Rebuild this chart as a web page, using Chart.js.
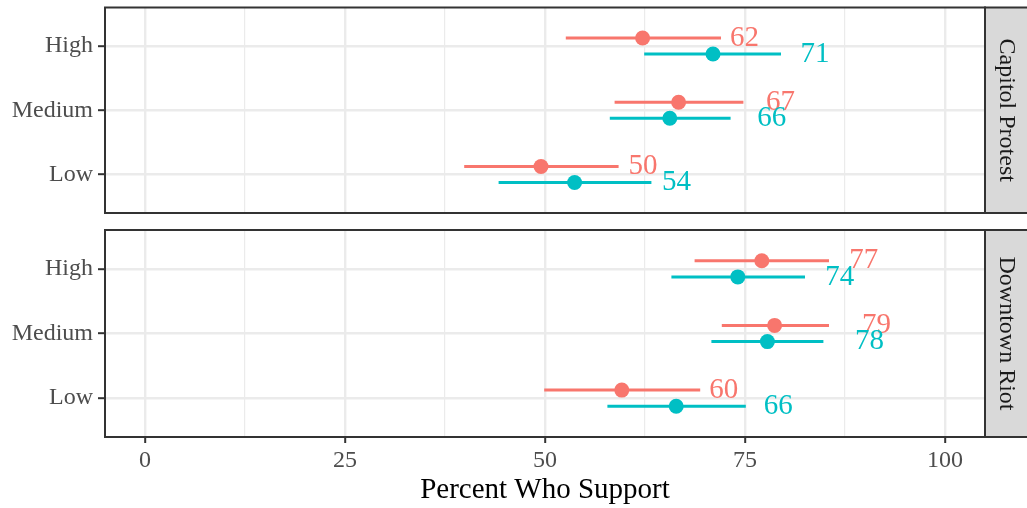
<!DOCTYPE html>
<html>
<head>
<meta charset="utf-8">
<script src="https://cdn.jsdelivr.net/npm/chart.js@4.4.1/dist/chart.umd.min.js"></script>
<style>
  body{margin:0;background:#fff}
  #wrap{position:relative;width:1027px;height:508px;overflow:hidden}
  canvas{position:absolute;left:0}
</style>
</head>
<body>
<div id="wrap">
  <canvas id="top" width="1027" height="222" style="top:0;width:1027px;height:222px"></canvas>
  <canvas id="bottom" width="1027" height="286" style="top:222px;width:1027px;height:286px"></canvas>
</div>
<script>
// y levels, bottom to top
const categories = ['Low', 'Medium', 'High'];
const panels = ['Capitol Protest', 'Downtown Riot'];
const xTicks = [0, 12.5, 25, 37.5, 50, 62.5, 75, 87.5, 100];
const xLabels = [0, 25, 50, 75, 100];

// Capitol Protest
const protestRed = [49.5, 66.7, 62.2];
const protestRedLo = [39.9, 58.7, 52.6];
const protestRedHi = [59.2, 74.8, 72.0];
const protestTeal = [53.7, 65.6, 71.0];
const protestTealLo = [44.2, 58.1, 62.4];
const protestTealHi = [63.3, 73.2, 79.5];

// Downtown Riot
const riotRed = [59.6, 78.7, 77.1];
const riotRedLo = [49.9, 72.1, 68.7];
const riotRedHi = [69.4, 85.5, 85.5];
const riotTeal = [66.4, 77.8, 74.1];
const riotTealLo = [57.8, 70.8, 65.8];
const riotTealHi = [75.1, 84.8, 82.5];

const RED = '#F8766D', TEAL = '#00BFC4';
const DODGE = 0.125, NUDGE = 12.75;
const FONT = "'Liberation Serif', 'Times New Roman', serif";

function seriesSets(est, lo, hi, color, off) {
  const sets = [];
  est.forEach((v, i) => {
    sets.push({
      type: 'line', showLine: true, order: 2,
      data: [{x: lo[i], y: i + 1 + off}, {x: hi[i], y: i + 1 + off}],
      borderColor: color, borderWidth: 3, pointRadius: 0, borderCapStyle: 'butt'
    });
  });
  sets.push({
    type: 'scatter', order: 1,
    data: est.map((v, i) => ({x: v, y: i + 1 + off})),
    backgroundColor: color, borderWidth: 0, pointRadius: 7.5
  });
  return sets;
}

const panelPlugin = {
  id: 'panel',
  afterDatasetsDraw(chart, args, opts) {
    const {ctx, scales: {x, y}} = chart;
    ctx.save();
    ctx.font = '29px ' + FONT;
    ctx.textAlign = 'center';
    ctx.textBaseline = 'middle';
    opts.series.forEach(s => {
      ctx.fillStyle = s.color;
      s.est.forEach((v, i) => {
        ctx.fillText(String(Math.round(v)), x.getPixelForValue(v + NUDGE), y.getPixelForValue(i + 1 + s.off));
      });
    });
    ctx.restore();
  },
  afterDraw(chart, args, opts) {
    const {ctx, chartArea: a} = chart;
    ctx.save();
    ctx.strokeStyle = '#333333';
    ctx.lineWidth = 2;
    ctx.strokeRect(a.left, a.top, a.right - a.left, a.bottom - a.top);
    ctx.fillStyle = '#D9D9D9';
    ctx.fillRect(a.right, a.top, 46, a.bottom - a.top);
    ctx.strokeRect(a.right, a.top, 46, a.bottom - a.top);
    ctx.translate(a.right + 21, (a.top + a.bottom) / 2);
    ctx.rotate(Math.PI / 2);
    ctx.fillStyle = '#1A1A1A';
    ctx.font = '24px ' + FONT;
    ctx.textAlign = 'center';
    ctx.textBaseline = 'middle';
    ctx.fillText(opts.strip, 0, 0);
    ctx.restore();
  }
};

function makeChart(id, strip, red, redLo, redHi, teal, tealLo, tealHi, showX, padTop, xHeight) {
  const datasets = [].concat(
    seriesSets(red, redLo, redHi, RED, DODGE),
    seriesSets(teal, tealLo, tealHi, TEAL, -DODGE)
  );
  return new Chart(document.getElementById(id), {
    type: 'scatter',
    data: {datasets: datasets},
    plugins: [panelPlugin],
    options: {
      responsive: false,
      animation: false,
      events: [],
      layout: {padding: {top: padTop, right: 42, left: 0, bottom: 0}},
      plugins: {
        legend: {display: false},
        tooltip: {enabled: false},
        panel: {
          strip: strip,
          series: [{est: red, color: RED, off: DODGE}, {est: teal, color: TEAL, off: -DODGE}]
        }
      },
      scales: {
        x: {
          type: 'linear', min: -5, max: 105,
          afterBuildTicks: s => { s.ticks = xTicks.map(v => ({value: v})); },
          afterFit: s => { s.height = xHeight; s.paddingLeft = 0; s.paddingRight = 0; },
          border: {display: false},
          grid: {
            color: '#EBEBEB',
            lineWidth: c => (c.tick && xLabels.includes(c.tick.value)) ? 2.4 : 1.2,
            drawTicks: showX,
            tickLength: 6,
            tickWidth: 2,
            tickColor: c => (c.tick && xLabels.includes(c.tick.value)) ? '#333333' : 'rgba(0,0,0,0)'
          },
          ticks: {
            display: showX,
            autoSkip: false,
            maxRotation: 0,
            padding: 3,
            color: '#4D4D4D',
            font: {family: FONT, size: 24},
            callback: v => xLabels.includes(v) ? String(v) : ''
          },
          title: {
            display: showX,
            text: 'Percent Who Support',
            color: '#000000',
            font: {family: FONT, size: 29},
            padding: {top: 0, bottom: 0}
          }
        },
        y: {
          type: 'linear', min: 0.4, max: 3.6,
          afterBuildTicks: s => { s.ticks = categories.map((c, i) => ({value: i + 1})); },
          afterFit: s => { s.width = 105; s.paddingTop = 0; s.paddingBottom = 0; },
          border: {display: false},
          grid: {
            color: '#EBEBEB',
            lineWidth: 2.4,
            tickLength: 7,
            tickWidth: 2,
            tickColor: '#333333'
          },
          ticks: {
            padding: 5,
            color: '#4D4D4D',
            font: {family: FONT, size: 24},
            callback: v => categories[v - 1]
          }
        }
      }
    }
  });
}

makeChart('top', panels[0], protestRed, protestRedLo, protestRedHi,
  protestTeal, protestTealLo, protestTealHi, false, 5, 9);
makeChart('bottom', panels[1], riotRed, riotRedLo, riotRedHi,
  riotTeal, riotTealLo, riotTealHi, true, 8, 71);
</script>
</body>
</html>
